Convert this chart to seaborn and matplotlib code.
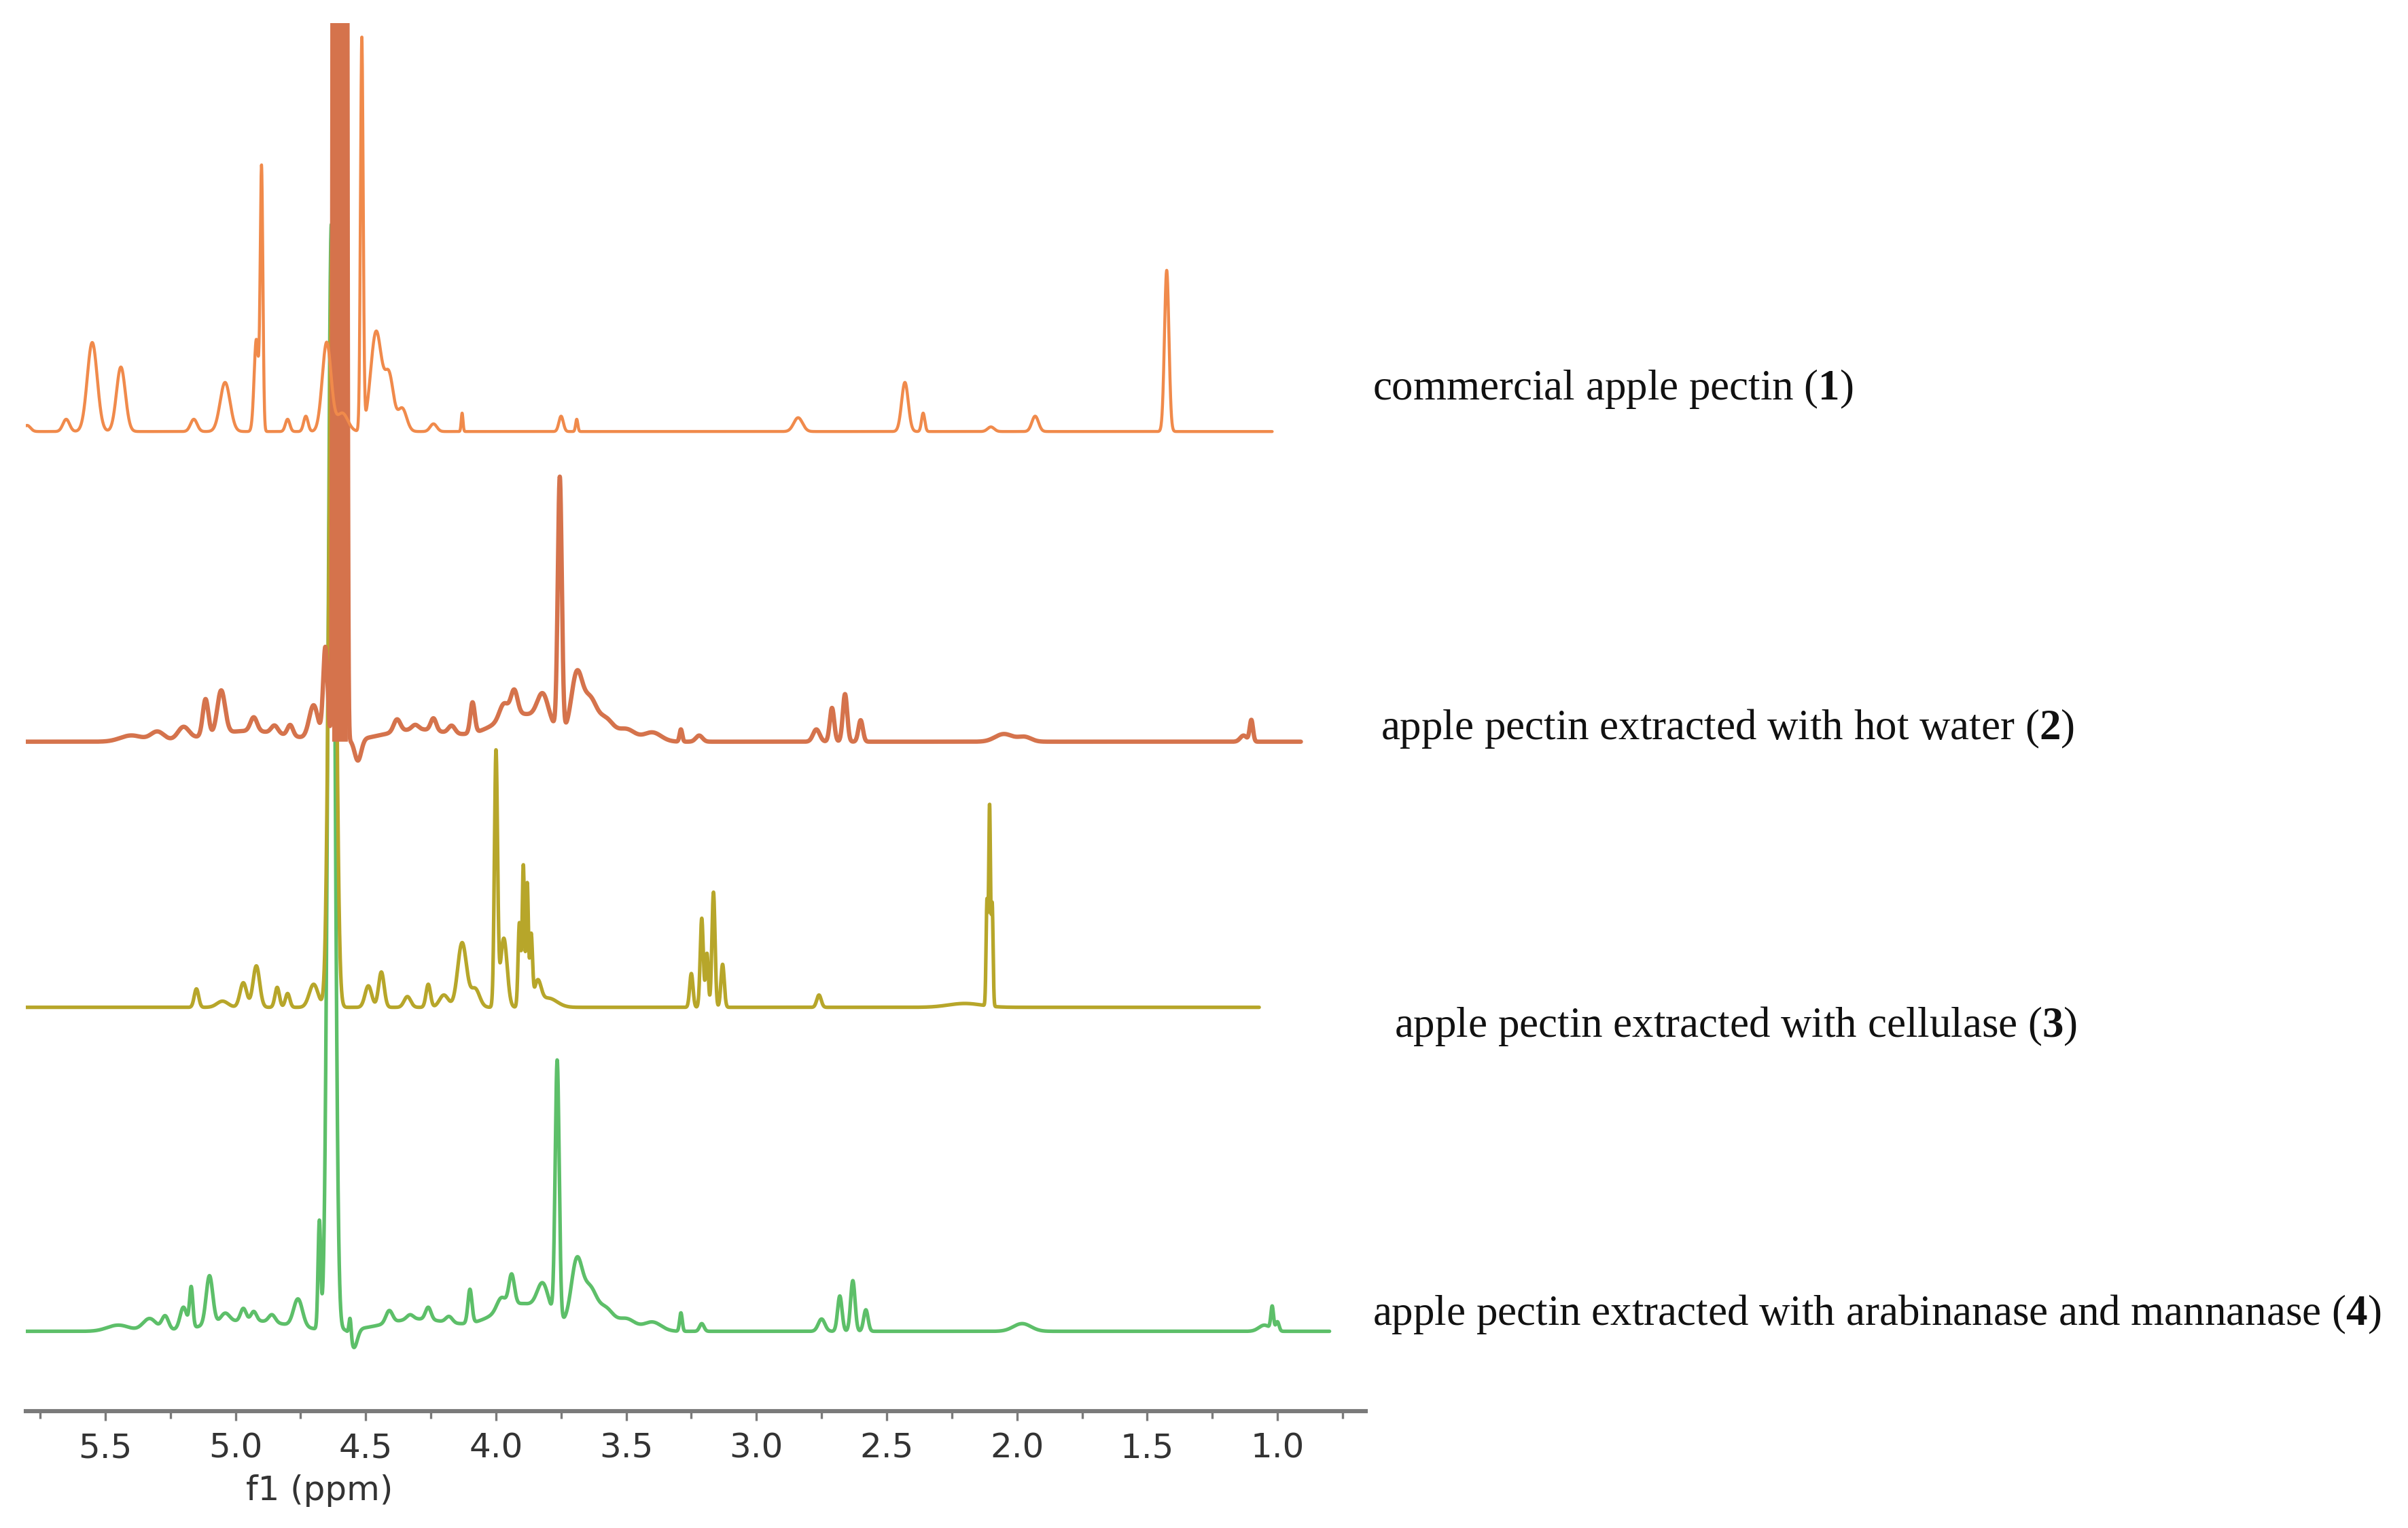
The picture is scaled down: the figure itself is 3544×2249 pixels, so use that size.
import numpy as np
import pandas as pd
import seaborn as sns
import matplotlib.pyplot as plt

# peak lists: (ppm, height, fwhm in ppm)
# heights are in screen units of the reference, offsets are the baselines
commercial_peaks = [
    (5.80, 4, 0.03), (5.65, 8, 0.03), (5.55, 58, 0.045), (5.44, 42, 0.04),
    (5.16, 8, 0.03), (5.04, 32, 0.045), (4.92, 60, 0.02), (4.90, 170, 0.012),
    (4.80, 8, 0.02), (4.73, 10, 0.02), (4.65, 58, 0.04), (4.59, 12, 0.05),
    (4.515, 255, 0.012), (4.46, 65, 0.05), (4.41, 35, 0.04), (4.36, 15, 0.04),
    (4.24, 5, 0.03), (4.13, 12, 0.008), (3.75, 10, 0.02), (3.69, 8, 0.01),
    (2.84, 9, 0.04), (2.43, 32, 0.03), (2.36, 12, 0.015), (2.10, 3, 0.03),
    (1.93, 10, 0.03), (1.425, 105, 0.02),
]
hot_water_peaks = [
    (5.40, 4, 0.1), (5.30, 6, 0.06), (5.20, 8, 0.05), (5.115, 24, 0.025),
    (5.055, 28, 0.035), (4.95, 7, 0.35), (4.93, 9, 0.03), (4.85, 5, 0.03),
    (4.79, 7, 0.025), (4.70, 22, 0.04), (4.655, 60, 0.02),
    (4.618, 3000, 0.012), (4.606, 3000, 0.012), (4.593, 3000, 0.012),
    (4.58, 3000, 0.012),
    (4.53, -14, 0.03), (4.30, 8, 0.3), (4.38, 8, 0.03), (4.31, 3, 0.03),
    (4.24, 8, 0.025), (4.17, 5, 0.03), (4.09, 20, 0.02), (3.90, 18, 0.25),
    (3.97, 10, 0.04), (3.93, 16, 0.03), (3.82, 18, 0.05), (3.755, 165, 0.018),
    (3.69, 40, 0.05), (3.64, 25, 0.06), (3.58, 14, 0.07), (3.50, 8, 0.08),
    (3.40, 6, 0.08), (3.29, 8, 0.012), (3.22, 4, 0.03), (2.77, 8, 0.03),
    (2.71, 22, 0.02), (2.66, 31, 0.02), (2.60, 14, 0.02), (2.05, 5, 0.08),
    (1.97, 3, 0.06), (1.13, 4, 0.03), (1.10, 14, 0.015),
]
cellulase_peaks = [
    (5.15, 12, 0.02), (5.05, 4, 0.05), (4.97, 16, 0.03), (4.92, 27, 0.03),
    (4.84, 13, 0.02), (4.80, 9, 0.02), (4.70, 15, 0.04), (4.628, 505, 0.03),
    (4.49, 14, 0.03), (4.44, 23, 0.025), (4.34, 7, 0.03), (4.26, 15, 0.02),
    (4.20, 8, 0.04), (4.13, 42, 0.04), (4.08, 12, 0.04), (4.00, 165, 0.014),
    (3.97, 45, 0.03), (3.91, 55, 0.012), (3.895, 92, 0.01), (3.88, 80, 0.01),
    (3.865, 45, 0.012), (3.84, 15, 0.03), (3.80, 6, 0.08), (3.25, 22, 0.015),
    (3.21, 58, 0.014), (3.19, 35, 0.012), (3.165, 75, 0.014), (3.13, 28, 0.015),
    (2.76, 8, 0.02), (2.20, 2.5, 0.15), (2.115, 68, 0.008), (2.105, 130, 0.008),
    (2.095, 66, 0.008),
]
enzyme_peaks = [
    (5.45, 4, 0.1), (5.33, 8, 0.06), (5.27, 9, 0.03), (5.20, 14, 0.03),
    (5.17, 26, 0.015), (5.10, 32, 0.03), (4.95, 7, 0.35), (5.04, 6, 0.04),
    (4.97, 8, 0.025), (4.93, 6, 0.025), (4.86, 5, 0.03), (4.76, 18, 0.04),
    (4.678, 70, 0.012), (4.632, 720, 0.03), (4.56, 13, 0.01), (4.545, -12, 0.03),
    (4.30, 8, 0.3), (4.41, 8, 0.03), (4.33, 3, 0.03), (4.26, 8, 0.025),
    (4.18, 4, 0.03), (4.10, 22, 0.018), (3.90, 18, 0.25), (3.98, 8, 0.04),
    (3.94, 20, 0.025), (3.82, 18, 0.05), (3.765, 168, 0.018), (3.69, 42, 0.05),
    (3.64, 25, 0.06), (3.58, 14, 0.07), (3.50, 8, 0.08), (3.40, 6, 0.08),
    (3.29, 12, 0.012), (3.21, 5, 0.02), (2.75, 8, 0.03), (2.68, 23, 0.02),
    (2.63, 33, 0.02), (2.58, 14, 0.02), (1.98, 5, 0.08), (1.05, 4, 0.05),
    (1.02, 15, 0.012), (1.00, 6, 0.015),
]

labels = [
    r"commercial apple pectin ($\mathbf{1}$)",
    r"apple pectin extracted with hot water ($\mathbf{2}$)",
    r"apple pectin extracted with cellulase ($\mathbf{3}$)",
    r"apple pectin extracted with arabinanase and mannanase ($\mathbf{4}$)",
]
baselines = [638, 436, 263, 52]
ppm_ends = [1.02, 0.91, 1.07, 0.80]
colors = ["#F08A4B", "#D5734C", "#B7A62A", "#5DBF69"]
widths = [1.6, 2.3, 1.9, 1.9]
zorders = [4, 3, 2, 1]
# the saturated solvent signal of spectrum 2 shows as a solid bar
saturated = [False, True, False, False]

# label anchor (px in the 3544x2249 image)
label_xy = [(2020, 572), (2032, 1072), (2052, 1510), (2020, 1935)]

W, H, DPI = 3544, 2249, 200


def spectrum(peaks, start, end, offset):
    ppm = np.linspace(start, end, 8000)
    y = np.full_like(ppm, float(offset))
    for c, h, fwhm in peaks:
        s = fwhm / 2.3548
        y += h * np.exp(-0.5 * ((ppm - c) / s) ** 2)
    return pd.DataFrame({"ppm": ppm, "signal": y})


def main():
    sns.set_style("white")
    plt.rcParams["font.family"] = ["DejaVu Sans"]
    plt.rcParams["mathtext.fontset"] = "custom"
    plt.rcParams["mathtext.rm"] = "Liberation Serif"
    plt.rcParams["mathtext.bf"] = "Liberation Serif:bold"

    fig = plt.figure(figsize=(W / DPI, H / DPI), dpi=DPI)
    left, right = 38 / W, 2010 / W
    bottom, top = 1 - 2077 / H, 1 - 34 / H
    ax = fig.add_axes([left, bottom, right - left, top - bottom])

    all_peaks = [commercial_peaks, hot_water_peaks, cellulase_peaks, enzyme_peaks]
    for peaks, base, end, col, lw, z, sat in zip(all_peaks, baselines, ppm_ends,
                                                colors, widths, zorders, saturated):
        df = spectrum(peaks, 5.805, end, base)
        sns.lineplot(data=df, x="ppm", y="signal", ax=ax, color=col, lw=lw,
                     estimator=None, sort=False, zorder=z)
        if sat:
            ax.fill_between(df["ppm"], base, df["signal"],
                            where=df["signal"] > base + 250, color=col, lw=0,
                            zorder=z)

    ax.set_xlim(5.805, 0.661)
    ax.set_ylim(0, 904)
    ax.set_yticks([])
    ax.set_ylabel("")
    for side in ["left", "right", "top"]:
        ax.spines[side].set_visible(False)
    ax.spines["bottom"].set_color("#7a7a7a")
    ax.spines["bottom"].set_linewidth(2.2)

    ax.set_xticks(np.arange(1.0, 5.51, 0.5))
    ax.set_xticks(np.arange(0.75, 5.8, 0.25), minor=True)
    ax.set_xticklabels([f"{v:.1f}" for v in np.arange(1.0, 5.51, 0.5)])
    ax.tick_params(axis="x", which="both", direction="out", color="#7a7a7a",
                   width=1.2, bottom=True, labelsize=18, labelcolor="#333333",
                   pad=6)
    ax.tick_params(axis="x", which="major", length=5)
    ax.tick_params(axis="x", which="minor", length=4)
    ax.set_xlabel("f1 (ppm)", fontsize=18, color="#333333")
    ax.xaxis.set_label_coords((470 - 38) / (2010 - 38), -(2170 - 2077) / (2077 - 34))
    ax.xaxis.label.set_horizontalalignment("center")

    for text, (x, y) in zip(labels, label_xy):
        fig.text(x / W, 1 - y / H, text, fontsize=22.7, family="Liberation Serif",
                 va="center", ha="left", color="#111111")

    fig.savefig("out.png", dpi=DPI, facecolor="white")


if __name__ == "__main__":
    main()
